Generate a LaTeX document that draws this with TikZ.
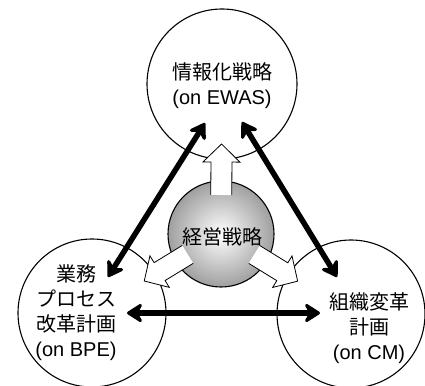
\documentclass[tikz,border=0pt]{standalone}
\usepackage{fontspec}
\setmainfont{Liberation Sans}
\newfontfamily\jp{Noto Sans CJK JP}
\usetikzlibrary{arrows.meta,calc}

\newcommand\hollowarrow[3]{%
  \coordinate (#3a) at ($(#1)!39pt!(#2)$);
  \coordinate (#3b) at ($(#1)!72pt!(#2)$);
  \coordinate (#3t) at ($(#1)!90pt!(#2)$);
  \coordinate (#3p1) at ($(#3a)!10.5pt!90:(#2)$);
  \coordinate (#3p2) at ($(#3b)!10.5pt!90:(#2)$);
  \coordinate (#3p3) at ($(#3b)!18.5pt!90:(#2)$);
  \coordinate (#3p5) at ($(#3b)!18.5pt!-90:(#2)$);
  \coordinate (#3p6) at ($(#3b)!10.5pt!-90:(#2)$);
  \coordinate (#3p7) at ($(#3a)!10.5pt!-90:(#2)$);
  \fill[white] (#3p1) -- (#3p2) -- (#3p3) -- (#3t) -- (#3p5) -- (#3p6) -- (#3p7) -- cycle;
  \draw[hollow] (#3p1) -- (#3p2) -- (#3p3) -- (#3t) -- (#3p5) -- (#3p6) -- (#3p7);
}

\begin{document}
\begin{tikzpicture}[x=1pt,y=-1pt,
  circ/.style={draw, line width=1.1pt, circle, minimum size=150pt, inner sep=0pt},
  lbl/.style={align=center, font=\fontsize{20}{25}\selectfont, inner sep=0pt},
  tip/.tip={Stealth[length=19pt,width=24pt,inset=7pt,round]},
  link/.style={line width=5.5pt, tip-tip},
  hollow/.style={draw=black, line width=0.8pt, line join=miter}
]
\clip (0,0) rectangle (425,385);

% outer circles
\node[circ] (top) at (222,84) {};
\node[circ, minimum size=148pt] (left) at (92,313) {};
\node[circ, minimum size=148pt] (right) at (351,314) {};

% central sphere
\node[circle, draw, line width=1.1pt, minimum size=106pt, inner sep=0pt,
      inner color=white, outer color=gray!75] (core) at (221,234) {};

% hollow arrows from the core
\coordinate (upT) at (222.5,0);
\hollowarrow{core.center}{upT}{ua}
\hollowarrow{core.center}{left.center}{la}
\hollowarrow{core.center}{right.center}{ra}

% texts
\node[lbl] (coretxt) at (222,237) {\jp 経営戦略};
\node[lbl] (toptxt) at (222,86) {{\jp 情報化戦略}\\(on EWAS)};
\node[lbl] (lefttxt) at (76,313) {{\jp 業務}\\{\jp プロセス}\\{\jp 改革計画}\\(on BPE)};
\node[lbl] (righttxt) at (369,328) {{\jp 組織変革}\\{\jp 計画}\\(on CM)};

% black double arrows
\coordinate (tl) at (205,123);
\coordinate (bl) at (108,277);
\coordinate (tr) at (242,122);
\coordinate (br) at (337,277);
\coordinate (hl) at (127,313);
\coordinate (hr) at (320,313);
\draw[link] (tl) -- (bl);
\draw[link] (tr) -- (br);
\draw[link] (hl) -- (hr);
\end{tikzpicture}
\end{document}
